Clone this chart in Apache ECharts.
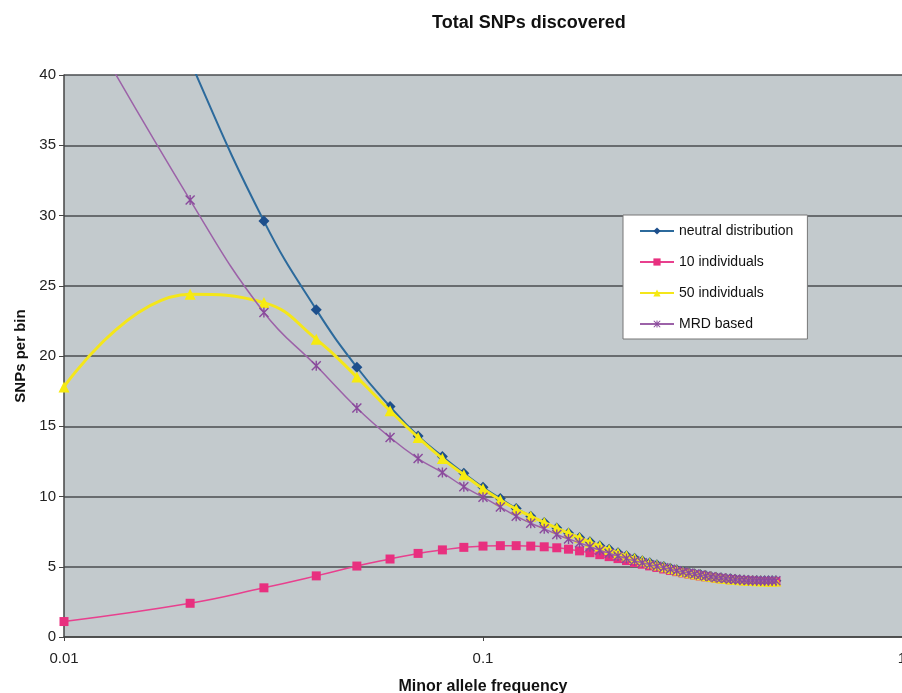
<!DOCTYPE html>
<html>
<head>
<meta charset="utf-8">
<script src="https://cdn.jsdelivr.net/npm/echarts@6/dist/echarts.min.js"></script>
<style>
html,body{margin:0;padding:0;background:#fff;}
#chart{width:902px;height:693px;}
</style>
</head>
<body>
<div id="chart"></div>
<script>
// Minor allele frequency (x) values
const freq = [0.01,0.02,0.03,0.04,0.05,0.06,0.07,0.08,0.09,0.10,
  0.11,0.12,0.13,0.14,0.15,0.16,0.17,0.18,0.19,0.20,
  0.21,0.22,0.23,0.24,0.25,0.26,0.27,0.28,0.29,0.30,
  0.31,0.32,0.33,0.34,0.35,0.36,0.37,0.38,0.39,0.40,
  0.41,0.42,0.43,0.44,0.45,0.46,0.47,0.48,0.49,0.50];

const neutral = [62,41,29.6,23.3,19.2,16.4,14.3,12.85,11.65,10.65,
  9.85,9.15,8.6,8.15,7.75,7.4,7.08,6.78,6.5,6.24,
  6.0,5.79,5.6,5.43,5.28,5.14,5.01,4.89,4.78,4.68,
  4.59,4.51,4.44,4.37,4.31,4.26,4.21,4.17,4.14,4.11,
  4.08,4.06,4.04,4.03,4.02,4.01,4.0,4.0,4.0,4.0];

const ind10 = [1.1,2.4,3.5,4.35,5.05,5.55,5.95,6.2,6.38,6.47,
  6.5,6.5,6.47,6.42,6.35,6.25,6.13,6.0,5.86,5.72,
  5.58,5.44,5.3,5.18,5.06,4.95,4.84,4.74,4.65,4.56,
  4.48,4.41,4.34,4.28,4.23,4.18,4.14,4.1,4.07,4.04,
  4.02,4.0,3.98,3.97,3.96,3.95,3.95,3.94,3.94,3.94];

const ind50 = [17.8,24.4,23.8,21.2,18.5,16.1,14.2,12.7,11.55,10.55,
  9.75,9.1,8.6,8.15,7.75,7.4,7.06,6.76,6.48,6.22,
  5.98,5.78,5.59,5.42,5.27,5.13,5.0,4.88,4.77,4.67,
  4.58,4.5,4.43,4.36,4.3,4.25,4.2,4.16,4.13,4.1,
  4.07,4.05,4.03,4.02,4.01,4.0,3.99,3.99,3.99,3.99];

const mrd = [46.5,31.1,23.1,19.3,16.3,14.2,12.7,11.7,10.7,9.95,
  9.25,8.6,8.1,7.7,7.3,6.98,6.7,6.43,6.18,5.96,
  5.76,5.58,5.42,5.28,5.15,5.03,4.92,4.82,4.72,4.63,
  4.55,4.48,4.41,4.35,4.29,4.24,4.2,4.16,4.12,4.09,
  4.07,4.05,4.03,4.02,4.01,4.0,4.0,4.0,4.0,4.0];

const seriesNames = ['neutral distribution','10 individuals','50 individuals','MRD based'];
const xTickLabels = ['0.01','0.1','1'];

const pair = ys => freq.map((x,i) => [x, ys[i]]);
const asterisk = 'path://M0,1L1,0L5,4L9,0L10,1L6,5L10,9L9,10L5,6L1,10L0,9L4,5ZM4.3,0L5.7,0L5.7,10L4.3,10Z';

const chart = echarts.init(document.getElementById('chart'), null, {renderer:'canvas'});
chart.setOption({
  animation:false,
  backgroundColor:'#ffffff',
  textStyle:{fontFamily:'Liberation Sans, Arial, sans-serif'},
  title:{
    text:'Total SNPs discovered',
    left:427, top:9,
    textStyle:{fontSize:18, fontWeight:'bold', color:'#111', fontFamily:'Liberation Sans, Arial, sans-serif'}
  },
  grid:{left:64, right:0, top:75, bottom:56, show:true, backgroundColor:'#c3cacd', borderWidth:0,
        containLabel:false, outerBoundsMode:'none'},
  legend:{
    left:623, top:215,
    orient:'vertical',
    backgroundColor:'#ffffff',
    borderColor:'#777', borderWidth:1,
    padding:[9,14,8,16],
    itemGap:17,
    itemWidth:34, itemHeight:9,
    textStyle:{fontSize:14, color:'#111', fontFamily:'Liberation Sans, Arial, sans-serif'},
    data:seriesNames
  },
  xAxis:{
    type:'log', logBase:10, min:0.01, max:1,
    name:'Minor allele frequency', nameLocation:'middle', nameGap:42,
    nameTextStyle:{fontSize:16, fontWeight:'bold', color:'#111'},
    axisLine:{show:true, lineStyle:{color:'#444', width:1.5}},
    axisTick:{show:true, length:4, lineStyle:{color:'#444'}},
    axisLabel:{fontSize:15, color:'#222', margin:14,
      formatter:v => { const s = String(+(+v).toPrecision(3)); return xTickLabels.includes(s) ? s : ''; }},
    splitLine:{show:false},
    minorTick:{show:false}
  },
  yAxis:{
    type:'value', min:0, max:40, interval:5,
    name:'SNPs per bin', nameLocation:'middle', nameGap:33, nameRotate:90,
    nameTextStyle:{fontSize:15, fontWeight:'bold', color:'#111'},
    axisLine:{show:true, lineStyle:{color:'#444', width:1.5}},
    axisTick:{show:true, length:5, lineStyle:{color:'#444'}},
    axisLabel:{fontSize:15, color:'#222', margin:8},
    splitLine:{show:true, lineStyle:{color:'#4a4d4f', width:1.5}}
  },
  series:[
    {name:seriesNames[0], type:'line', smooth:0.45, data:pair(neutral),
     symbol:'diamond', symbolSize:11,
     lineStyle:{color:'#2c6a9c', width:2},
     itemStyle:{color:'#1d4f8c'}, z:2},
    {name:seriesNames[1], type:'line', smooth:0.45, data:pair(ind10),
     symbol:'rect', symbolSize:9,
     lineStyle:{color:'#e8408e', width:1.5},
     itemStyle:{color:'#e8307f'}, z:3},
    {name:seriesNames[2], type:'line', smooth:0.45, data:pair(ind50),
     symbol:'triangle', symbolSize:11,
     lineStyle:{color:'#f4e61a', width:3},
     itemStyle:{color:'#f6ea10'}, z:4},
    {name:seriesNames[3], type:'line', smooth:0.45, data:pair(mrd),
     symbol:asterisk, symbolSize:10,
     lineStyle:{color:'#9c62a8', width:1.5},
     itemStyle:{color:'#8a4a9c'}, z:5}
  ]
});
</script>
</body>
</html>
